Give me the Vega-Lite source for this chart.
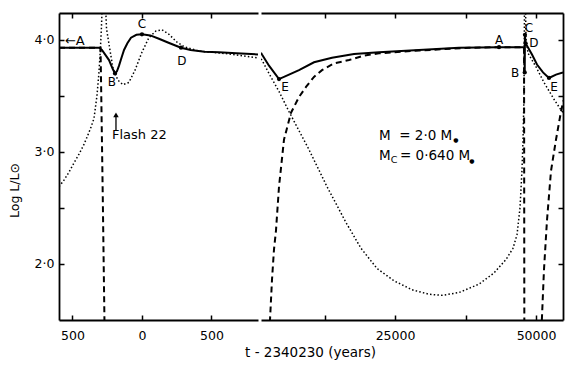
{
  "$schema": "https://vega.github.io/schema/vega-lite/v6.json",
  "background": "white",
  "padding": {"left": 8, "top": 12, "right": 5, "bottom": 5},
  "spacing": 3,
  "bounds": "flush",
  "config": {
    "view": {"stroke": null},
    "font": "DejaVu Sans",
    "axis": {
      "domainColor": "black", "domainWidth": 1.8,
      "tickColor": "black", "tickWidth": 1.5, "tickSize": -5,
      "labelFont": "DejaVu Sans", "labelFontSize": 12.5, "labelColor": "black",
      "labelFlush": false, "labelOverlap": false,
      "grid": false,
      "titleFont": "DejaVu Sans", "titleFontWeight": "normal", "titleFontSize": 12.5, "titleColor": "black"
    }
  },
  "datasets": {
    "curves": [
      {"p":"L","k":"solid","s":"s0","t":-597,"v":3.93},
      {"p":"L","k":"solid","s":"s0","t":-309,"v":3.93},
      {"p":"L","k":"solid","s":"s0","t":-288,"v":3.91},
      {"p":"L","k":"solid","s":"s0","t":-237,"v":3.82},
      {"p":"L","k":"solid","s":"s0","t":-210,"v":3.74},
      {"p":"L","k":"solid","s":"s0","t":-194,"v":3.70},
      {"p":"L","k":"solid","s":"s0","t":-180,"v":3.72},
      {"p":"L","k":"solid","s":"s0","t":-165,"v":3.77},
      {"p":"L","k":"solid","s":"s0","t":-145,"v":3.85},
      {"p":"L","k":"solid","s":"s0","t":-129,"v":3.91},
      {"p":"L","k":"solid","s":"s0","t":-105,"v":3.97},
      {"p":"L","k":"solid","s":"s0","t":-79,"v":4.02},
      {"p":"L","k":"solid","s":"s0","t":-40,"v":4.045},
      {"p":"L","k":"solid","s":"s0","t":0,"v":4.05},
      {"p":"L","k":"solid","s":"s0","t":60,"v":4.04},
      {"p":"L","k":"solid","s":"s0","t":122,"v":4.01},
      {"p":"L","k":"solid","s":"s0","t":200,"v":3.97},
      {"p":"L","k":"solid","s":"s0","t":281,"v":3.93},
      {"p":"L","k":"solid","s":"s0","t":350,"v":3.91},
      {"p":"L","k":"solid","s":"s0","t":450,"v":3.895},
      {"p":"L","k":"solid","s":"s0","t":554,"v":3.89},
      {"p":"L","k":"solid","s":"s0","t":680,"v":3.88},
      {"p":"L","k":"solid","s":"s0","t":835,"v":3.87},

      {"p":"L","k":"dot","s":"o0","t":-597,"v":2.69},
      {"p":"L","k":"dot","s":"o0","t":-560,"v":2.75},
      {"p":"L","k":"dot","s":"o0","t":-525,"v":2.82},
      {"p":"L","k":"dot","s":"o0","t":-490,"v":2.90},
      {"p":"L","k":"dot","s":"o0","t":-453,"v":2.98},
      {"p":"L","k":"dot","s":"o0","t":-420,"v":3.06},
      {"p":"L","k":"dot","s":"o0","t":-396,"v":3.13},
      {"p":"L","k":"dot","s":"o0","t":-370,"v":3.21},
      {"p":"L","k":"dot","s":"o0","t":-345,"v":3.30},
      {"p":"L","k":"dot","s":"o0","t":-324,"v":3.50},
      {"p":"L","k":"dot","s":"o0","t":-310,"v":3.70},
      {"p":"L","k":"dot","s":"o0","t":-300,"v":3.90},
      {"p":"L","k":"dot","s":"o0","t":-292,"v":4.10},
      {"p":"L","k":"dot","s":"o0","t":-286,"v":4.30},
      {"p":"L","k":"dot","s":"o0","t":-273,"v":4.70},
      {"p":"L","k":"dot","s":"o0","t":-262,"v":4.30},
      {"p":"L","k":"dot","s":"o0","t":-255,"v":4.10},
      {"p":"L","k":"dot","s":"o0","t":-237,"v":3.96},
      {"p":"L","k":"dot","s":"o0","t":-209,"v":3.75},
      {"p":"L","k":"dot","s":"o0","t":-173,"v":3.64},
      {"p":"L","k":"dot","s":"o0","t":-137,"v":3.60},
      {"p":"L","k":"dot","s":"o0","t":-94,"v":3.62},
      {"p":"L","k":"dot","s":"o0","t":-50,"v":3.73},
      {"p":"L","k":"dot","s":"o0","t":0,"v":3.89},
      {"p":"L","k":"dot","s":"o0","t":50,"v":4.02},
      {"p":"L","k":"dot","s":"o0","t":101,"v":4.08},
      {"p":"L","k":"dot","s":"o0","t":144,"v":4.09},
      {"p":"L","k":"dot","s":"o0","t":194,"v":4.05},
      {"p":"L","k":"dot","s":"o0","t":252,"v":3.98},
      {"p":"L","k":"dot","s":"o0","t":302,"v":3.94},
      {"p":"L","k":"dot","s":"o0","t":410,"v":3.90},
      {"p":"L","k":"dot","s":"o0","t":626,"v":3.875},
      {"p":"L","k":"dot","s":"o0","t":835,"v":3.84},

      {"p":"L","k":"dash","s":"d0","t":-597,"v":3.93},
      {"p":"L","k":"dash","s":"d0","t":-298,"v":3.93},
      {"p":"L","k":"dash","s":"d0","t":-294,"v":3.60},
      {"p":"L","k":"dash","s":"d0","t":-288,"v":3.10},
      {"p":"L","k":"dash","s":"d0","t":-282,"v":2.60},
      {"p":"L","k":"dash","s":"d0","t":-276,"v":2.05},
      {"p":"L","k":"dash","s":"d0","t":-270,"v":1.50},
      {"p":"L","k":"dash","s":"d0","t":-267,"v":1.30},

      {"p":"R","k":"solid","s":"s1","t":1241,"v":3.885},
      {"p":"R","k":"solid","s":"s1","t":1418,"v":3.87},
      {"p":"R","k":"solid","s":"s1","t":2660,"v":3.77},
      {"p":"R","k":"solid","s":"s1","t":4433,"v":3.65},
      {"p":"R","k":"solid","s":"s1","t":6206,"v":3.69},
      {"p":"R","k":"solid","s":"s1","t":7979,"v":3.73},
      {"p":"R","k":"solid","s":"s1","t":10638,"v":3.80},
      {"p":"R","k":"solid","s":"s1","t":13829,"v":3.84},
      {"p":"R","k":"solid","s":"s1","t":17730,"v":3.875},
      {"p":"R","k":"solid","s":"s1","t":22163,"v":3.89},
      {"p":"R","k":"solid","s":"s1","t":29255,"v":3.91},
      {"p":"R","k":"solid","s":"s1","t":36347,"v":3.93},
      {"p":"R","k":"solid","s":"s1","t":43440,"v":3.935},
      {"p":"R","k":"solid","s":"s1","t":47960,"v":3.935},
      {"p":"R","k":"solid","s":"s1","t":48000,"v":3.71},
      {"p":"R","k":"solid","s":"s1","t":48040,"v":4.045},
      {"p":"R","k":"solid","s":"s1","t":48150,"v":3.97},
      {"p":"R","k":"solid","s":"s1","t":49289,"v":3.87},
      {"p":"R","k":"solid","s":"s1","t":50176,"v":3.78},
      {"p":"R","k":"solid","s":"s1","t":51240,"v":3.71},
      {"p":"R","k":"solid","s":"s1","t":52304,"v":3.66},
      {"p":"R","k":"solid","s":"s1","t":53545,"v":3.69},
      {"p":"R","k":"solid","s":"s1","t":54787,"v":3.71},

      {"p":"R","k":"dash","s":"d1","t":2748,"v":1.30},
      {"p":"R","k":"dash","s":"d1","t":2837,"v":1.50},
      {"p":"R","k":"dash","s":"d1","t":3014,"v":1.68},
      {"p":"R","k":"dash","s":"d1","t":3191,"v":1.86},
      {"p":"R","k":"dash","s":"d1","t":3546,"v":2.13},
      {"p":"R","k":"dash","s":"d1","t":3901,"v":2.30},
      {"p":"R","k":"dash","s":"d1","t":4433,"v":2.69},
      {"p":"R","k":"dash","s":"d1","t":5319,"v":3.11},
      {"p":"R","k":"dash","s":"d1","t":6560,"v":3.35},
      {"p":"R","k":"dash","s":"d1","t":7979,"v":3.49},
      {"p":"R","k":"dash","s":"d1","t":9220,"v":3.58},
      {"p":"R","k":"dash","s":"d1","t":10638,"v":3.67},
      {"p":"R","k":"dash","s":"d1","t":12056,"v":3.73},
      {"p":"R","k":"dash","s":"d1","t":14184,"v":3.79},
      {"p":"R","k":"dash","s":"d1","t":16844,"v":3.82},
      {"p":"R","k":"dash","s":"d1","t":19503,"v":3.86},
      {"p":"R","k":"dash","s":"d1","t":22163,"v":3.88},
      {"p":"R","k":"dash","s":"d1","t":29255,"v":3.905},
      {"p":"R","k":"dash","s":"d1","t":38120,"v":3.93},
      {"p":"R","k":"dash","s":"d1","t":43440,"v":3.935},
      {"p":"R","k":"dash","s":"d1","t":47880,"v":3.935},
      {"p":"R","k":"dash","s":"d1","t":47900,"v":3.00},
      {"p":"R","k":"dash","s":"d1","t":47920,"v":2.00},
      {"p":"R","k":"dash","s":"d1","t":47935,"v":1.30},

      {"p":"R","k":"dash","s":"d2","t":50885,"v":1.32},
      {"p":"R","k":"dash","s":"d2","t":51062,"v":1.53},
      {"p":"R","k":"dash","s":"d2","t":51417,"v":1.95},
      {"p":"R","k":"dash","s":"d2","t":51949,"v":2.39},
      {"p":"R","k":"dash","s":"d2","t":52658,"v":2.83},
      {"p":"R","k":"dash","s":"d2","t":53545,"v":3.11},
      {"p":"R","k":"dash","s":"d2","t":54431,"v":3.36},
      {"p":"R","k":"dash","s":"d2","t":54875,"v":3.46},

      {"p":"R","k":"dot","s":"o1","t":1241,"v":3.83},
      {"p":"R","k":"dot","s":"o1","t":1418,"v":3.82},
      {"p":"R","k":"dot","s":"o1","t":2660,"v":3.70},
      {"p":"R","k":"dot","s":"o1","t":4433,"v":3.54},
      {"p":"R","k":"dot","s":"o1","t":6206,"v":3.36},
      {"p":"R","k":"dot","s":"o1","t":9752,"v":3.02},
      {"p":"R","k":"dot","s":"o1","t":12943,"v":2.69},
      {"p":"R","k":"dot","s":"o1","t":16312,"v":2.37},
      {"p":"R","k":"dot","s":"o1","t":18971,"v":2.14},
      {"p":"R","k":"dot","s":"o1","t":21808,"v":1.96},
      {"p":"R","k":"dot","s":"o1","t":24822,"v":1.85},
      {"p":"R","k":"dot","s":"o1","t":28013,"v":1.77},
      {"p":"R","k":"dot","s":"o1","t":31028,"v":1.73},
      {"p":"R","k":"dot","s":"o1","t":33332,"v":1.72},
      {"p":"R","k":"dot","s":"o1","t":36347,"v":1.745},
      {"p":"R","k":"dot","s":"o1","t":39893,"v":1.82},
      {"p":"R","k":"dot","s":"o1","t":42552,"v":1.92},
      {"p":"R","k":"dot","s":"o1","t":44680,"v":2.04},
      {"p":"R","k":"dot","s":"o1","t":45921,"v":2.14},
      {"p":"R","k":"dot","s":"o1","t":46630,"v":2.26},
      {"p":"R","k":"dot","s":"o1","t":47162,"v":2.50},
      {"p":"R","k":"dot","s":"o1","t":47516,"v":2.84},
      {"p":"R","k":"dot","s":"o1","t":47694,"v":3.10},
      {"p":"R","k":"dot","s":"o1","t":47871,"v":3.50},
      {"p":"R","k":"dot","s":"o1","t":47960,"v":4.30},
      {"p":"R","k":"dot","s":"o1","t":48048,"v":4.70},
      {"p":"R","k":"dot","s":"o1","t":48140,"v":4.30},
      {"p":"R","k":"dot","s":"o1","t":48226,"v":4.00},
      {"p":"R","k":"dot","s":"o1","t":48600,"v":3.88},
      {"p":"R","k":"dot","s":"o1","t":49289,"v":3.82},
      {"p":"R","k":"dot","s":"o1","t":50000,"v":3.76},
      {"p":"R","k":"dot","s":"o1","t":51417,"v":3.62},
      {"p":"R","k":"dot","s":"o1","t":53190,"v":3.47},
      {"p":"R","k":"dot","s":"o1","t":54431,"v":3.375},
      {"p":"R","k":"dot","s":"o1","t":55140,"v":3.33}
    ],
    "pts": [
      {"p":"L","t":-194,"v":3.70},
      {"p":"L","t":0,"v":4.05},
      {"p":"L","t":281,"v":3.93},
      {"p":"R","t":4433,"v":3.65},
      {"p":"R","t":43440,"v":3.935},
      {"p":"R","t":48000,"v":3.71},
      {"p":"R","t":48040,"v":4.045},
      {"p":"R","t":48150,"v":3.97},
      {"p":"R","t":52304,"v":3.66}
    ],
    "labels": [
      {"p":"L","g":"pt","t":-216,"v":3.625,"txt":"B"},
      {"p":"L","g":"pt","t":0,"v":4.143,"txt":"C"},
      {"p":"L","g":"pt","t":288,"v":3.81,"txt":"D"},
      {"p":"L","g":"note","t":-554,"v":3.99,"txt":"←A"},
      {"p":"L","g":"note","t":-216,"v":3.15,"txt":"Flash 22"},
      {"p":"R","g":"pt","t":5496,"v":3.58,"txt":"E"},
      {"p":"R","g":"pt","t":43440,"v":4.0,"txt":"A"},
      {"p":"R","g":"pt","t":48757,"v":4.107,"txt":"C"},
      {"p":"R","g":"pt","t":49644,"v":3.973,"txt":"D"},
      {"p":"R","g":"pt","t":46275,"v":3.705,"txt":"B"},
      {"p":"R","g":"pt","t":53190,"v":3.58,"txt":"E"},
      {"p":"R","g":"note","t":22163,"v":3.143,"txt":"M\u00a0 = 2·0 M"},
      {"p":"R","g":"note","t":22163,"v":2.964,"txt":"M"},
      {"p":"R","g":"note","t":25886,"v":2.964,"txt":"= 0·640 M"},
      {"p":"R","g":"sub","t":24822,"v":2.925,"txt":"C"},
      {"p":"R","g":"sun","t":35815,"v":3.107,"txt":"●"},
      {"p":"R","g":"sun","t":38651,"v":2.92,"txt":"●"}
    ],
    "arrows": [
      {"p":"L","t":-187,"v":3.19,"v2":3.33}
    ]
  },
  "hconcat": [
    {
      "width": 199,
      "height": 307,
      "resolve": {"axis": {"x": "independent", "y": "independent"}},
      "layer": [
        {
          "data": {"name": "curves"},
          "transform": [{"filter": "datum.p == 'L' && datum.k == 'dot'"}],
          "mark": {"type": "line", "clip": true, "color": "black", "strokeWidth": 1.5, "strokeDash": [1.5, 2.2]},
          "encoding": {
            "x": {"field": "t", "type": "quantitative", "scale": {"domain": [-597, 835], "nice": false, "zero": false},
              "axis": {"orient": "bottom", "values": [-500, 0, 500], "labelExpr": "'' + abs(datum.value)", "labelPadding": 14,
                "title": "t - 2340230 (years)", "titleX": 251, "titleY": 32, "titleAlign": "center", "titleBaseline": "middle", "titleFontSize": 13.5}},
            "y": {"field": "v", "type": "quantitative", "scale": {"domain": [1.5, 4.24], "nice": false, "zero": false},
              "axis": {"orient": "left", "values": [2, 2.5, 3, 3.5, 4], "labelExpr": "datum.value % 1 == 0 ? replace(format(datum.value, '.1f'), '.', '·') : ''", "labelPadding": 10,
                "title": "Log L/L⊙", "titleX": -45, "titleY": 177, "titleAlign": "center", "titleBaseline": "middle", "titleAngle": 270}},
            "detail": {"field": "s"}
          }
        },
        {
          "data": {"name": "curves"},
          "transform": [{"filter": "datum.p == 'L' && datum.k == 'dash'"}],
          "mark": {"type": "line", "clip": true, "color": "black", "strokeWidth": 2, "strokeDash": [6, 4]},
          "encoding": {
            "x": {"field": "t", "type": "quantitative", "axis": {"orient": "top", "values": [-500, 0, 500], "labels": false, "title": null}},
            "y": {"field": "v", "type": "quantitative", "axis": null},
            "detail": {"field": "s"}
          }
        },
        {
          "data": {"name": "curves"},
          "transform": [{"filter": "datum.p == 'L' && datum.k == 'solid'"}],
          "mark": {"type": "line", "clip": true, "color": "black", "strokeWidth": 2},
          "encoding": {
            "x": {"field": "t", "type": "quantitative", "axis": null},
            "y": {"field": "v", "type": "quantitative", "axis": null},
            "detail": {"field": "s"}
          }
        },
        {
          "data": {"name": "pts"},
          "transform": [{"filter": "datum.p == 'L'"}],
          "mark": {"type": "point", "filled": true, "color": "black", "opacity": 1, "size": 18},
          "encoding": {
            "x": {"field": "t", "type": "quantitative", "axis": null},
            "y": {"field": "v", "type": "quantitative", "axis": null}
          }
        },
        {
          "data": {"name": "labels"},
          "transform": [{"filter": "datum.p == 'L' && datum.g == 'pt'"}],
          "mark": {"type": "text", "font": "DejaVu Sans", "fontSize": 12, "color": "black", "align": "center", "baseline": "middle"},
          "encoding": {
            "x": {"field": "t", "type": "quantitative", "axis": null},
            "y": {"field": "v", "type": "quantitative", "axis": null},
            "text": {"field": "txt"}
          }
        },
        {
          "data": {"name": "labels"},
          "transform": [{"filter": "datum.p == 'L' && datum.g == 'note'"}],
          "mark": {"type": "text", "font": "DejaVu Sans", "fontSize": 13, "color": "black", "align": "left", "baseline": "middle"},
          "encoding": {
            "x": {"field": "t", "type": "quantitative", "axis": null},
            "y": {"field": "v", "type": "quantitative", "axis": null},
            "text": {"field": "txt"}
          }
        },
        {
          "data": {"name": "arrows"},
          "mark": {"type": "rule", "color": "black", "strokeWidth": 1.3},
          "encoding": {
            "x": {"field": "t", "type": "quantitative", "axis": null},
            "y": {"field": "v", "type": "quantitative", "axis": null},
            "y2": {"field": "v2"}
          }
        },
        {
          "data": {"name": "arrows"},
          "mark": {"type": "point", "shape": "triangle-up", "filled": true, "color": "black", "opacity": 1, "size": 30},
          "encoding": {
            "x": {"field": "t", "type": "quantitative", "axis": null},
            "y": {"field": "v2", "type": "quantitative", "axis": null}
          }
        }
      ]
    },
    {
      "width": 302,
      "height": 307,
      "resolve": {"axis": {"x": "independent", "y": "independent"}},
      "layer": [
        {
          "data": {"name": "curves"},
          "transform": [{"filter": "datum.p == 'R' && datum.k == 'dot'"}],
          "mark": {"type": "line", "clip": true, "color": "black", "strokeWidth": 1.5, "strokeDash": [1.5, 2.2]},
          "encoding": {
            "x": {"field": "t", "type": "quantitative", "scale": {"domain": [1241, 54787], "nice": false, "zero": false},
              "axis": {"orient": "bottom", "values": [12500, 25000, 37500, 50000], "format": "d", "labelExpr": "datum.value % 25000 == 0 ? datum.label : ''", "labelPadding": 14, "title": null}},
            "y": {"field": "v", "type": "quantitative", "scale": {"domain": [1.5, 4.24], "nice": false, "zero": false},
              "axis": {"orient": "right", "values": [2, 2.5, 3, 3.5, 4], "labels": false, "title": null}},
            "detail": {"field": "s"}
          }
        },
        {
          "data": {"name": "curves"},
          "transform": [{"filter": "datum.p == 'R' && datum.k == 'dash'"}],
          "mark": {"type": "line", "clip": true, "color": "black", "strokeWidth": 2, "strokeDash": [6, 4]},
          "encoding": {
            "x": {"field": "t", "type": "quantitative", "axis": {"orient": "top", "values": [12500, 25000, 37500, 50000], "labels": false, "title": null}},
            "y": {"field": "v", "type": "quantitative", "axis": null},
            "detail": {"field": "s"}
          }
        },
        {
          "data": {"name": "curves"},
          "transform": [{"filter": "datum.p == 'R' && datum.k == 'solid'"}],
          "mark": {"type": "line", "clip": true, "color": "black", "strokeWidth": 2},
          "encoding": {
            "x": {"field": "t", "type": "quantitative", "axis": null},
            "y": {"field": "v", "type": "quantitative", "axis": null},
            "detail": {"field": "s"}
          }
        },
        {
          "data": {"name": "pts"},
          "transform": [{"filter": "datum.p == 'R'"}],
          "mark": {"type": "point", "filled": true, "color": "black", "opacity": 1, "size": 18},
          "encoding": {
            "x": {"field": "t", "type": "quantitative", "axis": null},
            "y": {"field": "v", "type": "quantitative", "axis": null}
          }
        },
        {
          "data": {"name": "labels"},
          "transform": [{"filter": "datum.p == 'R' && datum.g == 'pt'"}],
          "mark": {"type": "text", "font": "DejaVu Sans", "fontSize": 12, "color": "black", "align": "center", "baseline": "middle"},
          "encoding": {
            "x": {"field": "t", "type": "quantitative", "axis": null},
            "y": {"field": "v", "type": "quantitative", "axis": null},
            "text": {"field": "txt"}
          }
        },
        {
          "data": {"name": "labels"},
          "transform": [{"filter": "datum.p == 'R' && datum.g == 'note'"}],
          "mark": {"type": "text", "font": "DejaVu Sans", "fontSize": 13.5, "color": "black", "align": "left", "baseline": "middle"},
          "encoding": {
            "x": {"field": "t", "type": "quantitative", "axis": null},
            "y": {"field": "v", "type": "quantitative", "axis": null},
            "text": {"field": "txt"}
          }
        },
        {
          "data": {"name": "labels"},
          "transform": [{"filter": "datum.p == 'R' && datum.g == 'sub'"}],
          "mark": {"type": "text", "font": "DejaVu Sans", "fontSize": 9.5, "color": "black", "align": "center", "baseline": "middle"},
          "encoding": {
            "x": {"field": "t", "type": "quantitative", "axis": null},
            "y": {"field": "v", "type": "quantitative", "axis": null},
            "text": {"field": "txt"}
          }
        },
        {
          "data": {"name": "labels"},
          "transform": [{"filter": "datum.p == 'R' && datum.g == 'sun'"}],
          "mark": {"type": "text", "font": "DejaVu Sans", "fontSize": 6, "color": "black", "align": "center", "baseline": "middle"},
          "encoding": {
            "x": {"field": "t", "type": "quantitative", "axis": null},
            "y": {"field": "v", "type": "quantitative", "axis": null},
            "text": {"field": "txt"}
          }
        }
      ]
    }
  ]
}
